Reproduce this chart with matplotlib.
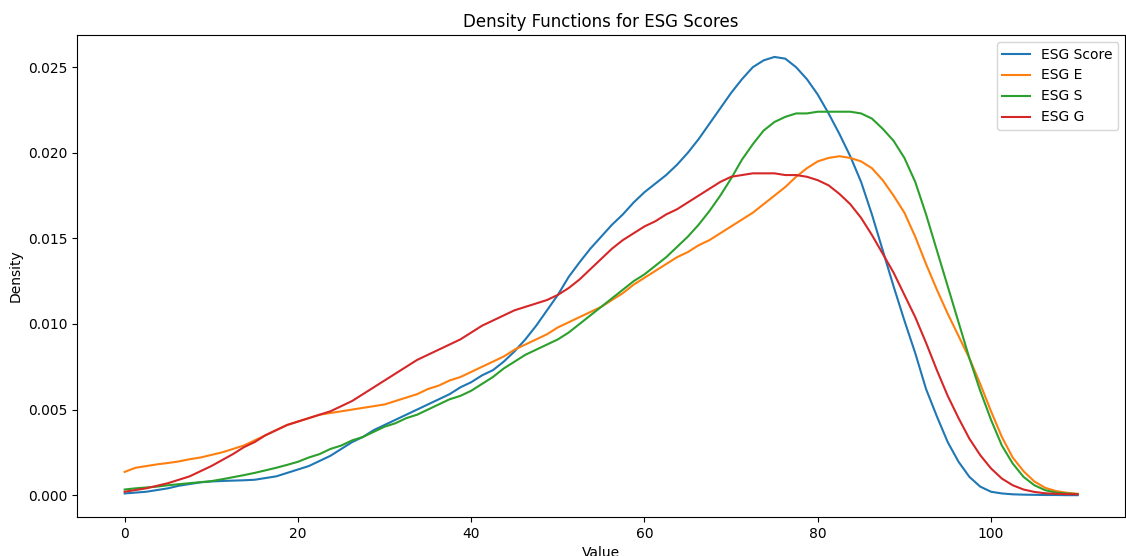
import matplotlib
matplotlib.use('Agg')
import matplotlib.pyplot as plt

# evaluation grid for the density curves (step 1.25 from 0 to 110)
x_grid = [i * 1.25 for i in range(89)]

esg_score = [0.0001, 0.00015, 0.0002, 0.0003, 0.0004, 0.00055, 0.00065, 0.00075, 0.0008, 0.00083,
             0.00085, 0.00087, 0.0009, 0.001, 0.0011, 0.0013, 0.0015, 0.0017, 0.002, 0.0023,
             0.0027, 0.0031, 0.0034, 0.0038, 0.0041, 0.0044, 0.0047, 0.005, 0.0053, 0.0056,
             0.0059, 0.0063, 0.0066, 0.007, 0.0073, 0.0078, 0.0084, 0.0091, 0.0099, 0.0108,
             0.0117, 0.01275, 0.0136, 0.0144, 0.0151, 0.0158, 0.0164, 0.0171, 0.0177, 0.0182,
             0.0187, 0.0193, 0.02, 0.0208, 0.0217, 0.0226, 0.0235, 0.0243, 0.025, 0.0254,
             0.0256, 0.0255, 0.025, 0.0243, 0.0234, 0.0223, 0.0211, 0.0198, 0.0183, 0.0164,
             0.0143, 0.0122, 0.0102, 0.0083, 0.0062, 0.0046, 0.0031, 0.00195, 0.00107, 0.0005,
             0.0002, 0.0001, 0.00005, 0.00003, 0.00002, 0.00001, 0.00001, 0.0, 0.0]

esg_e = [0.00136, 0.0016, 0.0017, 0.0018, 0.00188, 0.00197, 0.0021, 0.0022, 0.00235, 0.0025,
         0.0027, 0.0029, 0.0032, 0.0035, 0.0038, 0.0041, 0.0043, 0.0045, 0.0047, 0.0048,
         0.0049, 0.005, 0.0051, 0.0052, 0.0053, 0.0055, 0.0057, 0.0059, 0.0062, 0.0064,
         0.0067, 0.0069, 0.0072, 0.0075, 0.0078, 0.0081, 0.0085, 0.0088, 0.0091, 0.0094,
         0.0098, 0.0101, 0.0104, 0.0107, 0.011, 0.0114, 0.0118, 0.0123, 0.0127, 0.0131,
         0.0135, 0.0139, 0.0142, 0.0146, 0.0149, 0.0153, 0.0157, 0.0161, 0.0165, 0.017,
         0.0175, 0.018, 0.0186, 0.0191, 0.0195, 0.0197, 0.0198, 0.0197, 0.0195, 0.0191,
         0.0184, 0.0175, 0.0165, 0.0151, 0.0135, 0.012, 0.0106, 0.0093, 0.008, 0.0065,
         0.0049, 0.0034, 0.0022, 0.0014, 0.0008, 0.00043, 0.00024, 0.00014, 0.00008]

esg_s = [0.00033, 0.0004, 0.00045, 0.0005, 0.00058, 0.00064, 0.0007, 0.00076, 0.00082, 0.00093,
         0.00105, 0.00117, 0.0013, 0.00145, 0.0016, 0.00177, 0.00195, 0.0022, 0.0024, 0.0027,
         0.0029, 0.0032, 0.0034, 0.0037, 0.004, 0.0042, 0.0045, 0.0047, 0.005, 0.0053,
         0.0056, 0.0058, 0.0061, 0.0065, 0.0069, 0.0074, 0.0078, 0.0082, 0.0085, 0.0088,
         0.0091, 0.0095, 0.01, 0.0105, 0.011, 0.0115, 0.012, 0.0125, 0.0129, 0.0134,
         0.0139, 0.0145, 0.0151, 0.0158, 0.0166, 0.0175, 0.0185, 0.0196, 0.0205, 0.0213,
         0.0218, 0.0221, 0.0223, 0.0223, 0.0224, 0.0224, 0.0224, 0.0224, 0.0223, 0.022,
         0.0214, 0.0207, 0.0197, 0.0183, 0.0164, 0.0143, 0.0122, 0.0101, 0.008, 0.0061,
         0.0044, 0.0029, 0.00185, 0.00107, 0.00058, 0.00029, 0.00015, 0.0001, 0.00006]

esg_g = [0.0002, 0.0003, 0.0004, 0.00055, 0.0007, 0.0009, 0.0011, 0.0014, 0.0017, 0.00205,
         0.0024, 0.0028, 0.0031, 0.0035, 0.0038, 0.0041, 0.0043, 0.0045, 0.0047, 0.0049,
         0.0052, 0.0055, 0.0059, 0.0063, 0.0067, 0.0071, 0.0075, 0.0079, 0.0082, 0.0085,
         0.0088, 0.0091, 0.0095, 0.0099, 0.0102, 0.0105, 0.0108, 0.011, 0.0112, 0.0114,
         0.0117, 0.0121, 0.0126, 0.0132, 0.0138, 0.0144, 0.0149, 0.0153, 0.0157, 0.016,
         0.0164, 0.0167, 0.0171, 0.0175, 0.0179, 0.0183, 0.0186, 0.0187, 0.0188, 0.0188,
         0.0188, 0.0187, 0.0187, 0.0186, 0.0184, 0.0181, 0.0176, 0.017, 0.0162, 0.0152,
         0.0141, 0.013, 0.0117, 0.0104, 0.0089, 0.0073, 0.0058, 0.0045, 0.0033, 0.00234,
         0.00156, 0.00097, 0.00058, 0.00033, 0.00019, 0.00011, 0.00008, 0.00006, 0.00005]

series = [('ESG Score', esg_score), ('ESG E', esg_e), ('ESG S', esg_s), ('ESG G', esg_g)]

fig = plt.figure(figsize=(11.26, 5.56), dpi=100)
ax = fig.add_axes([0.0684, 0.070, 0.931, 0.867])

for name, dens in series:
    ax.plot(x_grid, dens, label=name)

ax.set_title('Density Functions for ESG Scores')
ax.set_xlabel('Value')
ax.set_ylabel('Density')
ax.legend(loc='upper right')

fig.savefig('out.png', dpi=100)
